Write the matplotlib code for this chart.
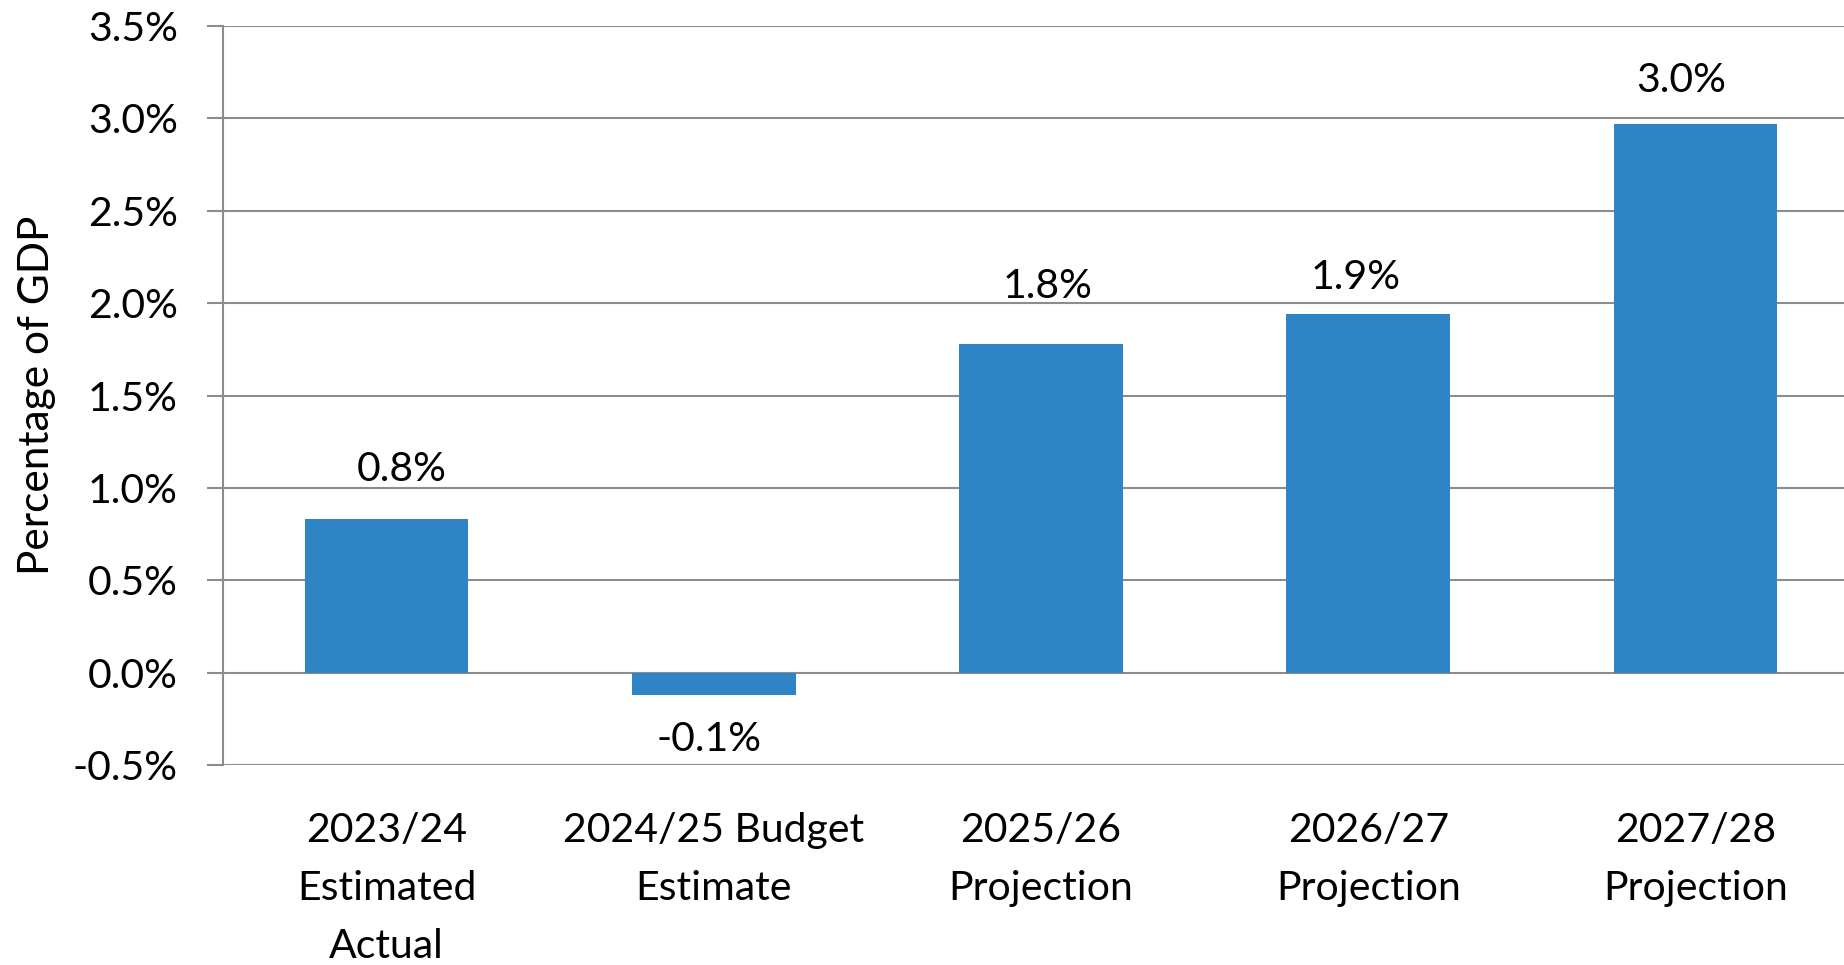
import matplotlib.pyplot as plt
from matplotlib.ticker import FuncFormatter, MultipleLocator

plt.rcParams['font.family'] = ['Lato', 'DejaVu Sans']

# data
categories = ["2023/24\nEstimated\nActual", "2024/25 Budget\nEstimate",
              "2025/26\nProjection", "2026/27\nProjection", "2027/28\nProjection"]
balance_pct_gdp = [0.83, -0.12, 1.78, 1.94, 2.97]
value_labels = ["0.8%", "-0.1%", "1.8%", "1.9%", "3.0%"]

# label nudges (points) -- the source labels aren't placed uniformly
label_dx = [11, -3.5, 5, -9, -10]
label_dy = [27.4, -40.3, 33, 18.2, 22.8]

BAR_COLOR = '#2E84C4'
GRID_COLOR = '#8C8C8C'
FS = 29.5

fig = plt.figure(figsize=(18.44, 9.65), dpi=100)
ax = fig.add_axes([0.1209, 0.2073, 0.8791, 0.7657])

x = list(range(len(categories)))
bars = ax.bar(x, balance_pct_gdp, width=0.5, color=BAR_COLOR, zorder=3)

# value labels above / below bars
for rect, val, lab, dx, dy in zip(bars, balance_pct_gdp, value_labels, label_dx, label_dy):
    cx = rect.get_x() + rect.get_width() / 2
    ax.annotate(lab, xy=(cx, val), xytext=(dx, dy), textcoords='offset points',
                ha='center', va='baseline', fontsize=FS)

ax.set_ylim(-0.5, 3.5)
ax.set_xlim(-0.5, 4.454)
ax.yaxis.set_major_locator(MultipleLocator(0.5))
ax.yaxis.set_major_formatter(FuncFormatter(lambda v, p: f"{v:.1f}%"))

ax.set_xticks(x)
ax.set_xticklabels(categories, fontsize=FS, linespacing=1.7)
ax.tick_params(axis='x', length=0, pad=34)
ax.tick_params(axis='y', length=11.5, width=1.5, color=GRID_COLOR, pad=21, labelsize=FS)

ax.grid(True, axis='y', color=GRID_COLOR, linewidth=1.5, zorder=0)
ax.set_axisbelow(True)
for side in ['top', 'right', 'bottom']:
    ax.spines[side].set_visible(False)
ax.spines['left'].set_color(GRID_COLOR)
ax.spines['left'].set_linewidth(1.5)

ax.set_ylabel("Percentage of GDP", fontsize=30.5)
ax.yaxis.set_label_coords(-0.103, 0.5)

fig.savefig("out.png", dpi=100)
